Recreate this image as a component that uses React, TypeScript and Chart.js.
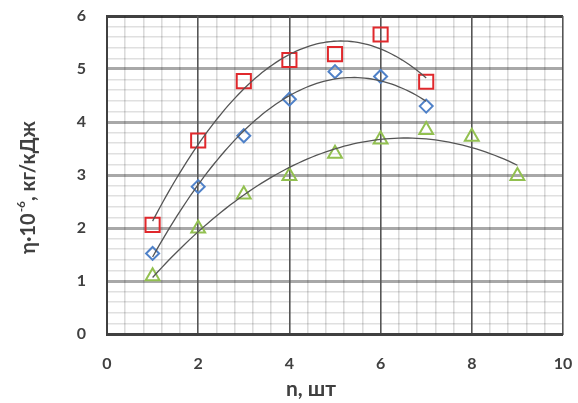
import React, { useEffect, useRef } from "react";
import { Chart, registerables } from "chart.js";

Chart.register(...registerables);

const nValues = [1, 2, 3, 4, 5, 6, 7, 8, 9];
const seriesSquares = [2.06, 3.65, 4.77, 5.17, 5.28, 5.65, 4.76];
const seriesDiamonds = [1.52, 2.78, 3.74, 4.43, 4.95, 4.86, 4.3];
const seriesTriangles = [1.09, 1.99, 2.63, 2.98, 3.4, 3.67, 3.85, 3.72, 2.98];
const xTickLabels = ["0", "2", "4", "6", "8", "10"];
const yTickLabels = ["0", "1", "2", "3", "4", "5", "6"];
const xTitle = "n, шт";
const yTitleParts = ["η·10", "-6", ", кг/кДж"];

// Excel-style quadratic (polynomial order 2) trend line fitted to the data
function quadFit(xs: number[], ys: number[]) {
  const n = ys.length;
  const s = [0, 0, 0, 0, 0];
  const t = [0, 0, 0];
  for (let i = 0; i < n; i++) {
    const x = xs[i];
    const y = ys[i];
    for (let k = 0; k < 5; k++) s[k] += Math.pow(x, k);
    for (let k = 0; k < 3; k++) t[k] += Math.pow(x, k) * y;
  }
  const A = [
    [s[0], s[1], s[2], t[0]],
    [s[1], s[2], s[3], t[1]],
    [s[2], s[3], s[4], t[2]],
  ];
  for (let c = 0; c < 3; c++) {
    let p = c;
    for (let r = c + 1; r < 3; r++) if (Math.abs(A[r][c]) > Math.abs(A[p][c])) p = r;
    [A[c], A[p]] = [A[p], A[c]];
    for (let r = 0; r < 3; r++) {
      if (r === c) continue;
      const f = A[r][c] / A[c][c];
      for (let k = c; k < 4; k++) A[r][k] -= f * A[c][k];
    }
  }
  const coef = [A[0][3] / A[0][0], A[1][3] / A[1][1], A[2][3] / A[2][2]];
  const x0 = xs[0];
  const x1 = xs[n - 1];
  const pts: { x: number; y: number }[] = [];
  const steps = 80;
  for (let i = 0; i <= steps; i++) {
    const x = x0 + ((x1 - x0) * i) / steps;
    pts.push({ x, y: coef[0] + coef[1] * x + coef[2] * x * x });
  }
  return pts;
}

const FONT = "Lato, 'Open Sans', 'Liberation Sans', sans-serif";
const TEXT = "#404040";

const near = (v: number, step: number) => Math.abs(v - Math.round(v / step) * step) < 1e-6;

const titlesPlugin = {
  id: "axisTitles",
  afterDraw(chart: any) {
    const ctx = chart.ctx;
    ctx.save();
    ctx.fillStyle = TEXT;
    // x title
    ctx.font = `bold 21px ${FONT}`;
    ctx.textAlign = "center";
    ctx.textBaseline = "alphabetic";
    ctx.fillText(xTitle, 311, 396);
    // y title (rotated)
    ctx.translate(27, 188);
    ctx.rotate(-Math.PI / 2);
    const big = `bold 20px ${FONT}`;
    const small = `bold 12px ${FONT}`;
    ctx.font = big;
    const w0 = ctx.measureText(yTitleParts[0]).width;
    const w2 = ctx.measureText(yTitleParts[2]).width;
    ctx.font = small;
    const w1 = ctx.measureText(yTitleParts[1]).width;
    let x = -(w0 + w1 + w2) / 2;
    ctx.textAlign = "left";
    ctx.font = big;
    ctx.fillText(yTitleParts[0], x, 8);
    x += w0;
    ctx.font = small;
    ctx.fillText(yTitleParts[1], x + 1, -2);
    x += w1 + 1;
    ctx.font = big;
    ctx.fillText(yTitleParts[2], x, 8);
    ctx.restore();
  },
};

export default function App() {
  const ref = useRef<HTMLCanvasElement>(null);
  useEffect(() => {
    document.body.style.margin = "0";
    const xsSq = nValues.slice(0, seriesSquares.length);
    const xsDi = nValues.slice(0, seriesDiamonds.length);
    const xsTr = nValues.slice(0, seriesTriangles.length);
    const toPts = (xs: number[], ys: number[]) => ys.map((y, i) => ({ x: xs[i], y }));
    const trend = (pts: any[]) => ({
      type: "line" as const,
      data: pts,
      borderColor: "#555555",
      borderWidth: 1.3,
      pointRadius: 0,
      fill: false,
      tension: 0,
    });
    const chart = new Chart(ref.current!, {
      type: "scatter",
      data: {
        datasets: [
          trend(quadFit(xsSq, seriesSquares)),
          trend(quadFit(xsDi, seriesDiamonds)),
          trend(quadFit(xsTr, seriesTriangles)),
          {
            data: toPts(xsSq, seriesSquares),
            pointStyle: "rect",
            pointRadius: 10,
            borderColor: "#e0282c",
            backgroundColor: "rgba(0,0,0,0)",
            borderWidth: 2,
          },
          {
            data: toPts(xsDi, seriesDiamonds),
            pointStyle: "rectRot",
            pointRadius: 6.5,
            borderColor: "#4f81c8",
            backgroundColor: "rgba(0,0,0,0)",
            borderWidth: 2,
          },
          {
            data: toPts(xsTr, seriesTriangles),
            pointStyle: "triangle",
            pointRadius: 8,
            borderColor: "#92c050",
            backgroundColor: "rgba(0,0,0,0)",
            borderWidth: 2,
          },
        ],
      },
      options: {
        animation: false,
        responsive: false,
        events: [],
        layout: { padding: { left: 0, right: 15, top: 16, bottom: 0 } },
        plugins: { legend: { display: false }, tooltip: { enabled: false } },
        scales: {
          x: {
            type: "linear",
            min: 0,
            max: 10,
            afterFit: (s: any) => {
              s.height = 69;
              s.paddingLeft = 0;
              s.paddingRight = 0;
            },
            ticks: {
              stepSize: 0.4,
              autoSkip: false,
              maxRotation: 0,
              padding: 20,
              color: TEXT,
              font: { family: FONT, size: 16, weight: "bold" },
              callback: (v: any) => (near(v, 2) ? xTickLabels[Math.round(v / 2)] : ""),
            },
            grid: {
              z: -1,
              drawTicks: false,
              color: (c: any) => (c.tick && near(c.tick.value, 2) ? "#555555" : "rgba(0,0,0,0.14)"),
              lineWidth: 1.6,
            },
            border: { display: true, color: "#404040", width: 2 },
          },
          y: {
            type: "linear",
            min: 0,
            max: 6,
            afterFit: (s: any) => {
              s.width = 107;
              s.paddingTop = 0;
              s.paddingBottom = 0;
            },
            ticks: {
              stepSize: 0.2,
              autoSkip: false,
              padding: 21,
              color: TEXT,
              font: { family: FONT, size: 16, weight: "bold" },
              callback: (v: any) => (near(v, 1) ? yTickLabels[Math.round(v)] : ""),
            },
            grid: {
              z: -2,
              drawTicks: false,
              color: (c: any) => {
                if (!c.tick) return "#dcdcdc";
                if (near(c.tick.value, 6)) return "#404040";
                return near(c.tick.value, 1) ? "#a8a8a8" : "#e0e0e0";
              },
              lineWidth: (c: any) => (c.tick && near(c.tick.value, 1) ? 3 : 1.6),
            },
            border: { display: true, color: "#404040", width: 2 },
          },
        },
      },
      plugins: [titlesPlugin],
    } as any);
    return () => chart.destroy();
  }, []);
  return (
    <div style={{ width: 578, height: 403 }}>
      <canvas ref={ref} width={578} height={403} style={{ display: "block" }} />
    </div>
  );
}
